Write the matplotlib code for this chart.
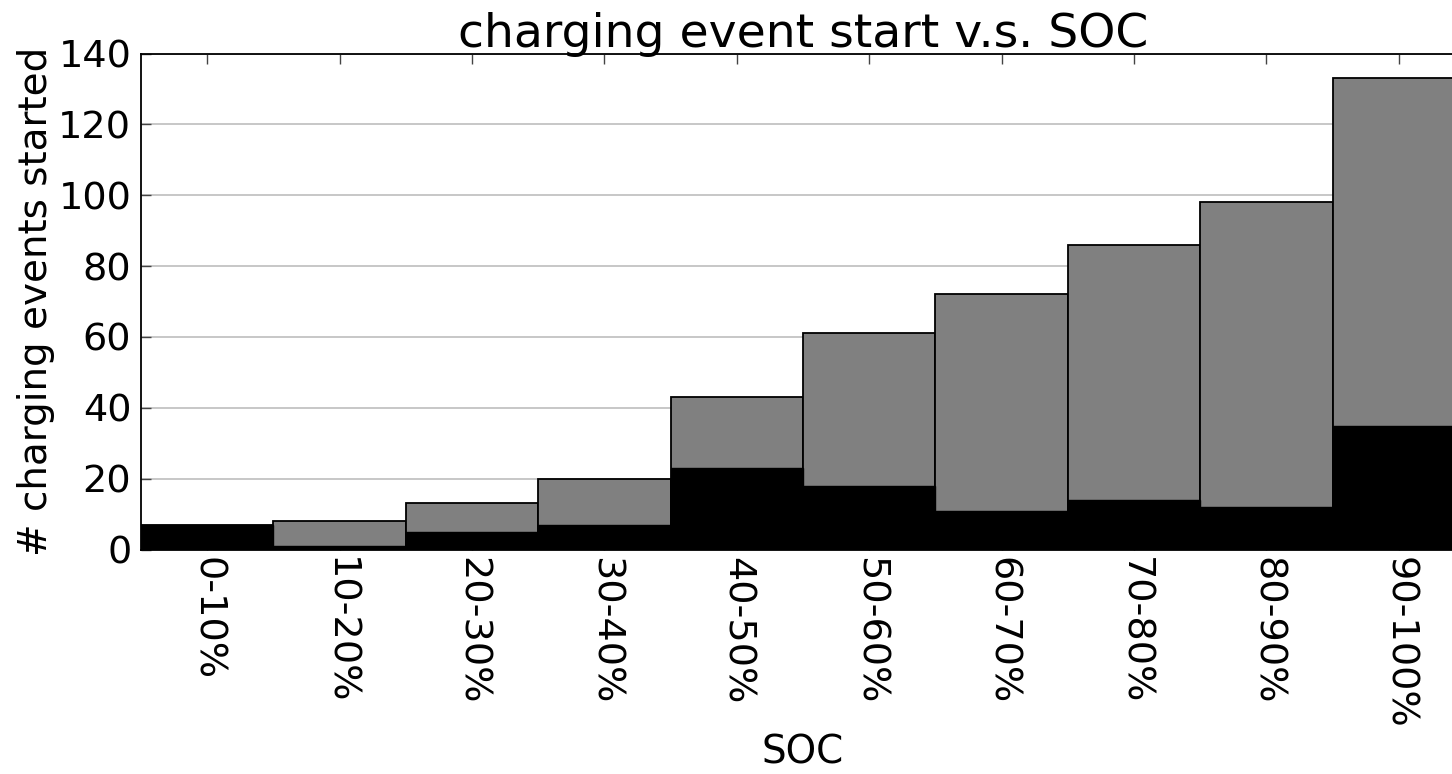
import matplotlib
matplotlib.use('Agg')
import matplotlib.pyplot as plt
import numpy as np

# SOC bins and counts
soc_bins = ['0-10%', '10-20%', '20-30%', '30-40%', '40-50%',
            '50-60%', '60-70%', '70-80%', '80-90%', '90-100%']
total_started = [7, 8, 13, 20, 43, 61, 72, 86, 98, 133]
black_part = [7, 1, 5, 7, 23, 18, 11, 14, 12, 35]

plt.rcParams['font.family'] = 'DejaVu Sans'
plt.rcParams['font.size'] = fontsize = 27.5

fig = plt.figure(figsize=(14.52, 7.74), dpi=100)
ax = fig.add_axes([141 / 1452, 1 - 549.5 / 774, (1465 - 141) / 1452, 496 / 774])

x = np.arange(len(soc_bins))
ax.bar(x, total_started, 1.0, color='#808080', edgecolor='black', linewidth=1.3, zorder=2)
ax.bar(x, black_part, 1.0, color='black', edgecolor='black', linewidth=1.0, zorder=3)

ax.set_xlim(-0.5, len(soc_bins) - 0.5)
ax.set_ylim(0, 140)
ax.set_yticks(np.arange(0, 141, 20))
ax.set_xticks(x)
ax.set_xticklabels(soc_bins, rotation=270)
ax.yaxis.grid(True, color='#b8b8b8', linewidth=1.1, zorder=0)
ax.set_axisbelow(True)
ax.tick_params(direction='in', length=7, width=1, top=True, right=True,
               labelsize=fontsize, color='#444444')
ax.tick_params(axis='y', pad=7)
ax.tick_params(axis='x', pad=5.5)
for s in ax.spines.values():
    s.set_linewidth(1.3)

ax.set_title('charging event start v.s. SOC', fontsize=34, pad=5)
ax.set_xlabel('SOC', fontsize=28, labelpad=3)
ax.set_ylabel('# charging events started', fontsize=28, labelpad=2)

fig.savefig('out.png', dpi=100)
